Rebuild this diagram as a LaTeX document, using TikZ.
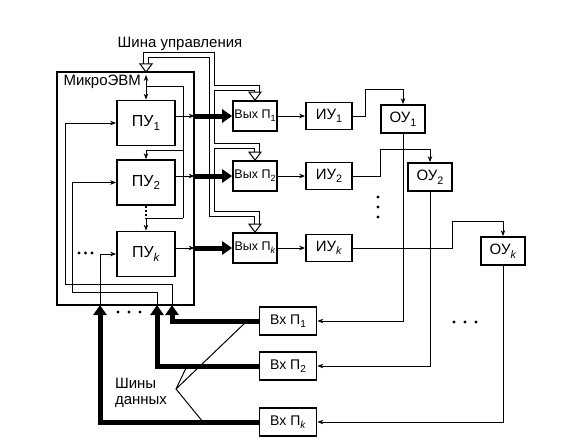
\documentclass[tikz,border=0pt]{standalone}
\usepackage{fontspec}
\setmainfont{Liberation Sans}
\usepackage{xcolor}
\usepackage{tikz}
\usetikzlibrary{arrows.meta, positioning}
\tikzstyle{block} = [
    rectangle,
    draw,
    line width=1.7pt,
    inner sep=0pt,
    text centered,
    font=\fontsize{15}{17}\selectfont
]
\tikzstyle{pu} = [block, minimum width=58pt, minimum height=45pt, font=\fontsize{16}{18}\selectfont]
\tikzstyle{vyh} = [block, minimum width=44pt, minimum height=30pt, font=\fontsize{12.5}{14}\selectfont]
\tikzstyle{iu} = [block, minimum width=46pt, minimum height=27pt]
\tikzstyle{ou} = [block, minimum width=44pt, minimum height=28pt]
\tikzstyle{vx} = [block, minimum width=57pt, minimum height=28pt, font=\fontsize{14}{16}\selectfont]
\tikzstyle{wire} = [line width=1pt]
\tikzstyle{arrow} = [
    line width=1pt,
    -{Stealth[length=6pt, width=4.5pt]}
]
\tikzstyle{fatarrow} = [
    line width=5pt,
    -{Triangle[length=10pt, width=13pt]}
]
\tikzstyle{busouter} = [line width=6pt]
\tikzstyle{businner} = [line width=4pt, white]
\newcommand{\hollowtip}[1]{\draw[line width=1pt, fill=white] (#1) -- ++(-6,-8) -- ++(12,0) -- cycle;}
\newcommand{\idx}[1]{\raisebox{-0.45ex}{\scalebox{0.72}{#1}}}

\begin{document}
\begin{tikzpicture}[x=1pt, y=-1pt]
        \useasboundingbox (0,0) rectangle (572,441);

        % Control bus (drawn twice: black, then white inside)
        \draw[busouter] (146,64) -- (146,55) -- (212,55) -- (212,214) -- (257,214) -- (257,225);
        \draw[busouter] (212,88) -- (257,88) -- (257,93);
        \draw[busouter] (212,146) -- (257,146) -- (257,153);
        \draw[businner] (146,64) -- (146,55) -- (212,55) -- (212,214) -- (257,214) -- (257,225);
        \draw[businner] (212,88) -- (257,88) -- (257,93);
        \draw[businner] (212,146) -- (257,146) -- (257,153);
        \node[font=\fontsize{15}{17}\selectfont] (cbus) at (180,44) {Шина управления};

        % MicroEVM
        \node[draw, line width=1.3pt, minimum width=137pt, minimum height=233pt, inner sep=0pt] (evm) at (125.5,188.5) {};
        \node[anchor=west, font=\fontsize{15}{17}\selectfont] (evmlabel) at (60,82) {МикроЭВМ};
        \node[pu] (pu1) at (146,123) {ПУ\idx{1}};
        \node[pu] (pu2) at (146,182.5) {ПУ\idx{2}};
        \node[pu] (puk) at (146,254) {ПУ\idx{\textit{k}}};

        % Output ports, actuators, objects
        \node[vyh] (vyh1) at (255,116) {Вых П\idx{1}};
        \node[vyh] (vyh2) at (255,176) {Вых П\idx{2}};
        \node[vyh] (vyhk) at (255,248) {Вых П\idx{\textit{k}}};
        \node[iu] (iu1) at (329,116) {ИУ\idx{1}};
        \node[iu] (iu2) at (329,176) {ИУ\idx{2}};
        \node[iu] (iuk) at (329,248) {ИУ\idx{\textit{k}}};
        \node[ou] (ou1) at (403,119) {ОУ\idx{1}};
        \node[ou] (ou2) at (430,177) {ОУ\idx{2}};
        \node[ou] (ouk) at (503,251) {ОУ\idx{\textit{k}}};

        % Input ports
        \node[vx] (vx1) at (288,321) {Вх П\idx{1}};
        \node[vx] (vx2) at (288,366) {Вх П\idx{2}};
        \node[vx] (vxk) at (288,422) {Вх П\idx{\textit{k}}};

        % Hollow tips of the control bus
        \coordinate (ct) at (146,72);
        \hollowtip{ct}
        \hollowtip{vyh1.north}
        \hollowtip{vyh2.north}
        \hollowtip{vyhk.north}

        % Control lines inside
        \draw[wire, {Stealth[length=6pt, width=4.5pt]}-{Stealth[length=6pt, width=4.5pt]}] (146,75) -- (pu1.north);
        \draw[wire] (146,87) -| (183,218);
        \draw[arrow] (183,150) -| (pu2.north);
        \draw[arrow] (183,218) -| (puk.north);
        \draw[line width=2pt, dash pattern=on 2pt off 2pt] (pu2.south) -- (146,218);

        % Arrows to outputs
        \draw[arrow] (pu1.east |- vyh1) -- (evm.east |- vyh1);
        \draw[arrow] (pu2.east |- vyh2) -- (evm.east |- vyh2);
        \draw[arrow] (puk.east |- vyhk) -- (evm.east |- vyhk);
        \draw[fatarrow] (evm.east |- vyh1) -- (vyh1.west);
        \draw[fatarrow] (evm.east |- vyh2) -- (vyh2.west);
        \draw[fatarrow] (evm.east |- vyhk) -- (vyhk.west);
        \draw[arrow] (vyh1) -- (iu1);
        \draw[arrow] (vyh2) -- (iu2);
        \draw[arrow] (vyhk) -- (iuk);
        \draw[arrow] (iu1.east) -| (365,90) -| (ou1.north);
        \draw[arrow] (iu2.east) -| (380,149) -| (ou2.north);
        \draw[arrow] (iuk.east) -| (452,221) -| (ouk.north);
        \draw[arrow] (ou1.south) |- (vx1.east);
        \draw[arrow] (ou2.south) |- (vx2.east);
        \draw[arrow] (ouk.south) |- (vxk.east);

        % Data buses
        \coordinate (d1) at (172,305);
        \coordinate (d2) at (157,305);
        \coordinate (dk) at (100,305);
        \draw[fatarrow] (vx1.west) -| (d1);
        \draw[fatarrow] (vx2.west) -| (d2);
        \draw[fatarrow] (vxk.west) -| (dk);
        \draw[arrow] (d1) |- (65,284) |- (pu1.west);
        \draw[arrow] (d2) |- (72,292) |- (pu2.west);
        \draw[arrow] (dk) |- (puk.west);

        % Labels below
        \node[align=left, font=\fontsize{15}{15.5}\selectfont] (shd) at (141,393) {Шины\\данных};
        \coordinate (apex) at (176,389);
        \draw[wire] (apex) -- (247,321);
        \draw[wire] (apex) -- (187,366);
        \draw[wire] (apex) -- (203,422);

        % Dots
        \foreach \x in {79,85.5,92} \fill (\x,253) circle (1.6pt);
        \foreach \x in {118,129,140} \fill (\x,312) circle (1.6pt);
        \foreach \x in {454,465,476} \fill (\x,322) circle (1.6pt);
        \foreach \y in {197,207,217} \fill (378,\y) circle (1.6pt);
    \end{tikzpicture}
\end{document}
